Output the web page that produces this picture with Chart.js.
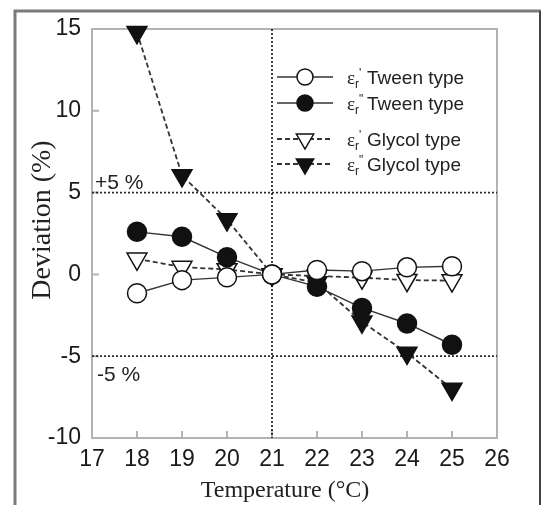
<!DOCTYPE html>
<html>
<head>
<meta charset="utf-8">
<script src="https://cdn.jsdelivr.net/npm/chart.js@4/dist/chart.umd.min.js"></script>
<style>
  html, body { margin: 0; padding: 0; background: #fff; }
  #wrap { width: 542px; height: 505px; }
</style>
</head>
<body>
<div id="wrap"><canvas id="devChart" width="542" height="505"></canvas></div>
<script>
const temps = [18, 19, 20, 21, 22, 23, 24, 25];
const tweenReal = [-1.15, -0.35, -0.18, 0, 0.27, 0.2, 0.43, 0.5];
const tweenImag = [2.6, 2.3, 1.05, 0, -0.75, -2.05, -3.0, -4.3];
const glycolReal = [0.95, 0.45, 0.3, 0, -0.1, -0.2, -0.35, -0.38];
const glycolImag = [14.8, 6.05, 3.35, 0, -0.5, -2.9, -4.8, -7.0];

const xTicks = [17, 18, 19, 20, 21, 22, 23, 24, 25, 26];
const yTicks = [-10, -5, 0, 5, 10, 15];
const limitLines = [5, -5];
const refTemp = 21;

const seriesLabels = ['Tween type', 'Tween type', 'Glycol type', 'Glycol type'];
const seriesPrimes = ["'", "''", "'", "''"];

const INK = '#111';
const FRAME = '#b3b3b3';

function pts(vals) {
    return temps.map((t, i) => ({ x: t, y: vals[i] }));
}

// extra drawing: frame, reference lines, inward ticks, texts, legend
const decorPlugin = {
    id: 'decor',
    beforeDraw(chart) {
        const ctx = chart.ctx;
        ctx.save();
        ctx.fillStyle = '#fff';
        ctx.fillRect(0, 0, chart.width, chart.height);
        // outer figure frame
        ctx.strokeStyle = '#7a7a7a';
        ctx.lineWidth = 3;
        ctx.beginPath();
        ctx.moveTo(15, 505); ctx.lineTo(15, 11); ctx.lineTo(541, 11);
        ctx.stroke();
        ctx.strokeStyle = '#444';
        ctx.lineWidth = 2;
        ctx.beginPath();
        ctx.moveTo(540, 11); ctx.lineTo(540, 505);
        ctx.stroke();
        ctx.restore();
    },
    beforeDatasetsDraw(chart) {
        const ctx = chart.ctx;
        const a = chart.chartArea;
        const xs = chart.scales.x, ys = chart.scales.y;
        ctx.save();
        // plot box
        ctx.strokeStyle = FRAME;
        ctx.lineWidth = 2;
        ctx.strokeRect(a.left, a.top, a.right - a.left, a.bottom - a.top);
        // inward ticks
        ctx.beginPath();
        xTicks.forEach(v => {
            const px = xs.getPixelForValue(v);
            ctx.moveTo(px, a.bottom); ctx.lineTo(px, a.bottom - 7);
        });
        yTicks.forEach(v => {
            const py = ys.getPixelForValue(v);
            ctx.moveTo(a.left, py); ctx.lineTo(a.left + 7, py);
        });
        ctx.stroke();
        // dotted reference lines
        ctx.strokeStyle = '#2a2a2a';
        ctx.lineWidth = 1.8;
        ctx.setLineDash([2, 2]);
        ctx.beginPath();
        limitLines.forEach(v => {
            const py = ys.getPixelForValue(v);
            ctx.moveTo(a.left, py); ctx.lineTo(a.right, py);
        });
        const rx = xs.getPixelForValue(refTemp);
        ctx.moveTo(rx, a.top); ctx.lineTo(rx, a.bottom);
        ctx.stroke();
        ctx.setLineDash([]);
        // limit labels
        ctx.fillStyle = '#222';
        ctx.font = '21px "Liberation Sans", Arial, sans-serif';
        ctx.textAlign = 'left';
        ctx.textBaseline = 'alphabetic';
        ctx.fillText('+5 %', a.left + 3, ys.getPixelForValue(5) - 4);
        ctx.fillText('-5 %', a.left + 5, ys.getPixelForValue(-5) + 25);
        ctx.restore();
    },
    afterDraw(chart) {
        const ctx = chart.ctx;
        ctx.save();
        // axis titles
        ctx.fillStyle = '#222';
        ctx.font = '24px "Liberation Serif", "Times New Roman", serif';
        ctx.textAlign = 'center';
        ctx.textBaseline = 'alphabetic';
        ctx.fillText('Temperature (\u00B0C)', 285, 497);
        ctx.translate(50, 220);
        ctx.rotate(-Math.PI / 2);
        ctx.font = '28px "Liberation Serif", "Times New Roman", serif';
        ctx.fillText('Deviation (%)', 0, 0);
        ctx.restore();

        // legend
        const rows = [77, 103, 139, 164];
        chart.data.datasets.forEach((ds, i) => {
            const y = rows[i];
            ctx.save();
            ctx.strokeStyle = ds.borderColor;
            ctx.lineWidth = ds.borderWidth;
            ctx.setLineDash(ds.borderDash || []);
            ctx.beginPath();
            ctx.moveTo(277, y); ctx.lineTo(333, y);
            ctx.stroke();
            ctx.setLineDash([]);
            ctx.fillStyle = ds.pointBackgroundColor;
            ctx.strokeStyle = ds.pointBorderColor;
            ctx.lineWidth = 1.5;
            ctx.beginPath();
            if (ds.pointStyle === 'circle') {
                ctx.arc(305, y, 8, 0, Math.PI * 2);
            } else {
                const r = 10;
                ctx.moveTo(305 - r * 0.866, y - r / 2);
                ctx.lineTo(305 + r * 0.866, y - r / 2);
                ctx.lineTo(305, y + r);
                ctx.closePath();
            }
            ctx.fill();
            ctx.stroke();
            // label: epsilon_r with prime(s)
            ctx.fillStyle = '#222';
            ctx.textBaseline = 'alphabetic';
            ctx.textAlign = 'left';
            let x = 347;
            const base = y + 7;
            ctx.font = '19px "Liberation Serif", serif';
            ctx.fillText('\u03B5', x, base);
            x += ctx.measureText('\u03B5').width;
            ctx.font = '12px "Liberation Sans", sans-serif';
            ctx.fillText('r', x, base + 4);
            ctx.fillText(seriesPrimes[i] === "'" ? "'" : '"', x + 4, base - 7);
            x += 10;
            ctx.font = '19px "Liberation Sans", Arial, sans-serif';
            ctx.fillText(seriesLabels[i], x + 2, base);
            ctx.restore();
        });
    }
};

const ctx = document.getElementById('devChart').getContext('2d');
new Chart(ctx, {
    type: 'line',
    data: {
        datasets: [
            {
                label: "\u03B5r' Tween type", data: pts(tweenReal), order: 0,
                borderColor: '#333', borderWidth: 1.4,
                pointStyle: 'circle', pointRadius: 9.5,
                pointBackgroundColor: '#fff', pointBorderColor: INK, pointBorderWidth: 1.5
            },
            {
                label: "\u03B5r'' Tween type", data: pts(tweenImag), order: 1,
                borderColor: '#333', borderWidth: 1.4,
                pointStyle: 'circle', pointRadius: 9.5,
                pointBackgroundColor: INK, pointBorderColor: INK, pointBorderWidth: 1.5
            },
            {
                label: "\u03B5r' Glycol type", data: pts(glycolReal), order: 2,
                borderColor: '#333', borderWidth: 1.8, borderDash: [5, 3],
                pointStyle: 'triangle', rotation: 180, pointRadius: 11.5,
                pointBackgroundColor: '#fff', pointBorderColor: INK, pointBorderWidth: 1.5
            },
            {
                label: "\u03B5r'' Glycol type", data: pts(glycolImag), order: 3,
                borderColor: '#333', borderWidth: 1.8, borderDash: [5, 3],
                pointStyle: 'triangle', rotation: 180, pointRadius: 11.5,
                pointBackgroundColor: INK, pointBorderColor: INK, pointBorderWidth: 1.5
            }
        ]
    },
    options: {
        responsive: false,
        animation: false,
        clip: false,
        layout: { padding: { left: 0, top: 29, right: 45, bottom: 0 } },
        plugins: { legend: { display: false }, tooltip: { enabled: false } },
        scales: {
            x: {
                type: 'linear', min: 17, max: 26,
                afterFit(scale) { scale.height = 67; },
                afterBuildTicks(scale) { scale.ticks = xTicks.map(v => ({ value: v })); },
                grid: { display: false, drawTicks: false },
                border: { display: false },
                ticks: {
                    padding: 8, color: '#1a1a1a',
                    font: { family: '"Liberation Sans", Arial, sans-serif', size: 23 }
                }
            },
            y: {
                min: -10, max: 15,
                afterFit(scale) { scale.width = 92; },
                afterBuildTicks(scale) { scale.ticks = yTicks.map(v => ({ value: v })); },
                grid: { display: false, drawTicks: false },
                border: { display: false },
                ticks: {
                    padding: 11, color: '#1a1a1a',
                    font: { family: '"Liberation Sans", Arial, sans-serif', size: 23 }
                }
            }
        }
    },
    plugins: [decorPlugin]
});
</script>
</body>
</html>
